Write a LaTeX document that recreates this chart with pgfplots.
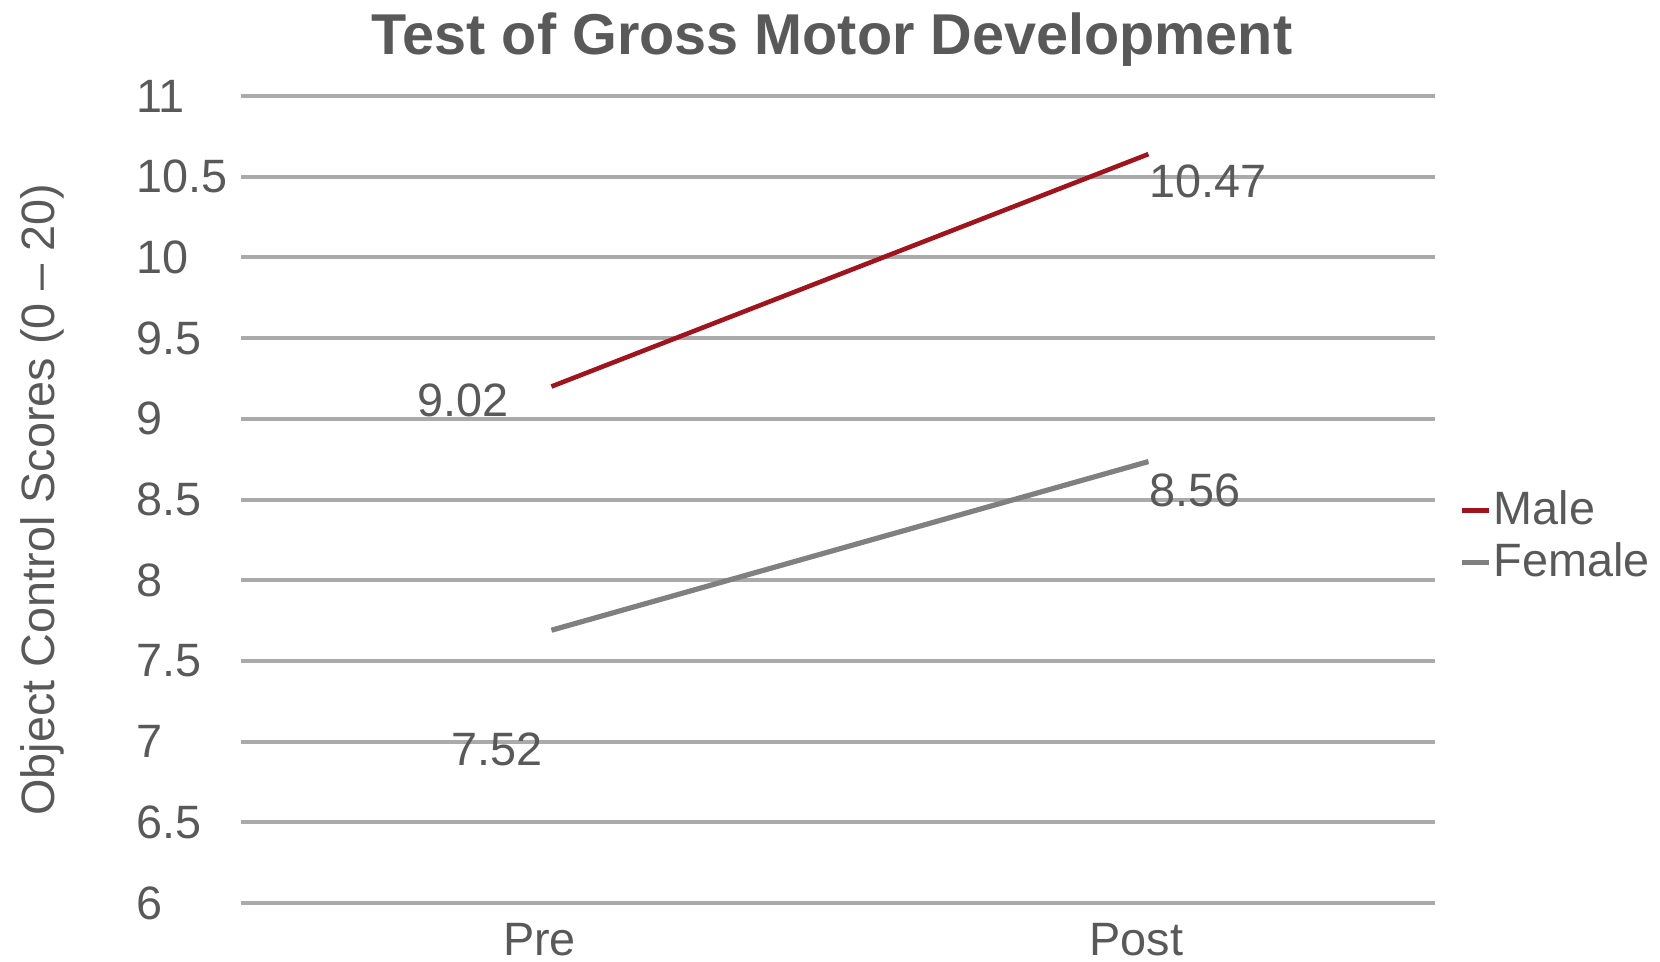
\documentclass[border=0pt]{standalone}
\usepackage{pgfplots}
\pgfplotsset{compat=1.18}
\usepackage{fontspec}
\setmainfont{Liberation Sans}
\definecolor{txt}{HTML}{595959}
\definecolor{grd}{HTML}{AAAAAA}
\definecolor{male}{HTML}{A0141E}
\definecolor{female}{HTML}{808080}
\newcommand{\lblfont}{\fontsize{11.7}{14}\selectfont}
\begin{document}
\begin{tikzpicture}
\useasboundingbox (-60.25pt,-14.75pt) rectangle (354.75pt,225.75pt);
\begin{axis}[
  at={(0,0)}, anchor=south west,
  scale only axis, width=298.5pt, height=201.75pt,
  xmin=-0.5, xmax=1.5, ymin=6, ymax=11,
  xtick={0,1}, xticklabels={Pre,Post},
  ytick={6,6.5,7,7.5,8,8.5,9,9.5,10,10.5,11},
  yticklabels={6,6.5,7,7.5,8,8.5,9,9.5,10,10.5,11},
  ymajorgrids, major grid style={grd, line width=1pt},
  axis line style={draw=none}, tick style={draw=none},
  clip=false,
  /pgf/number format/assume math mode=true,
  ticklabel style={font=\lblfont, text=txt},
  yticklabel style={anchor=west, inner sep=0pt, xshift=-26.4pt},
  xticklabel style={anchor=north, inner sep=0pt, yshift=-4.8pt},
  title={Test of Gross Motor Development},
  title style={at={(axis description cs:0.495,1)}, anchor=base, yshift=4.5pt,
    font=\fontsize{14.4}{17}\selectfont\bfseries, text=txt},
  ylabel={Object Control Scores (0 -- 20)},
  ylabel style={at={(axis description cs:-0.1558,0.5)}, anchor=base, font=\lblfont, text=txt},
  legend style={at={(rel axis cs:1.0195,0.454)}, anchor=west, draw=none, fill=none,
    inner sep=0pt, font=\lblfont, text=txt, row sep=3pt, column sep=0.6pt,
    nodes={inner sep=0pt, text=txt}},
  legend cell align=left,
  legend image code/.code={\draw[#1] (0pt,0pt) -- (6.75pt,0pt);},
]
\addplot[male, line width=1.15pt] coordinates {(0.02,9.20) (1.02,10.64)};
\addlegendentry{Male}
\addplot[female, line width=1.3pt] coordinates {(0.02,7.69) (1.02,8.735)};
\addlegendentry{Female}
\node[font=\lblfont, text=txt, inner sep=0pt] at (axis cs:-0.128,9.117) {9.02};
\node[font=\lblfont, text=txt, inner sep=0pt] at (axis cs:-0.071,6.951) {7.52};
\node[font=\lblfont, text=txt, inner sep=0pt] at (axis cs:1.120,10.468) {10.47};
\node[font=\lblfont, text=txt, inner sep=0pt] at (axis cs:1.098,8.559) {8.56};
\end{axis}
\end{tikzpicture}
\end{document}
